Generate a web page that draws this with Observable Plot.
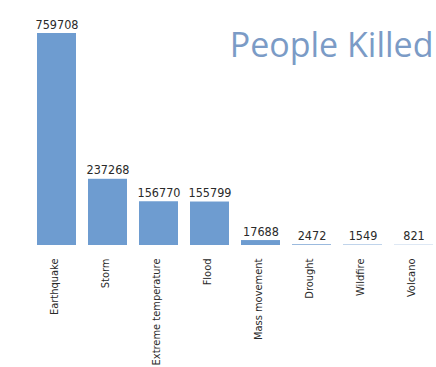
<!DOCTYPE html>
<html>
<head>
<meta charset="utf-8">
<script src="https://cdn.jsdelivr.net/npm/d3@7"></script>
<script src="https://cdn.jsdelivr.net/npm/@observablehq/plot@0.6"></script>
<style>
  html, body { margin: 0; padding: 0; background: #fff; }
  #chart svg { display: block; }
</style>
</head>
<body>
<div id="chart"></div>
<script>
const title = "People Killed";
const categories = ["Earthquake", "Storm", "Extreme temperature", "Flood", "Mass movement", "Drought", "Wildfire", "Volcano"];
const deaths = [759708, 237268, 156770, 155799, 17688, 2472, 1549, 821];

const data = categories.map((c, i) => ({category: c, value: deaths[i]}));
const narrow = "'Liberation Sans Narrow', 'DejaVu Sans Condensed', 'Arial Narrow', sans-serif";

const chart = Plot.plot({
  width: 436,
  height: 367,
  marginLeft: 33,
  marginRight: 0,
  marginTop: 33,
  marginBottom: 122,
  style: {fontFamily: narrow, background: "#fff", color: "#2a2a2a"},
  x: {domain: categories, padding: 0.24, paddingOuter: 0.07, label: null},
  y: {domain: [0, 759708], axis: null},
  marks: [
    Plot.barY(data, {x: "category", y: "value", fill: "#6e9cd0"}),
    Plot.text(data, {x: "category", y: "value", text: d => String(d.value), lineAnchor: "bottom", dy: -5, fontSize: 12.5, fill: "#2a2a2a"}),
    Plot.axisX({tickRotate: -90, tickSize: 0, tickPadding: 13, fontSize: 11, label: null, fill: "#2a2a2a", dx: -3}),
    Plot.text([title], {frameAnchor: "top-right", text: d => d, textAnchor: "end", lineAnchor: "top", dx: -3, dy: -1, fontSize: 34, fill: "#7b9bc6", fontFamily: "'Open Sans', sans-serif"})
  ]
});
document.getElementById("chart").appendChild(chart);
</script>
</body>
</html>
